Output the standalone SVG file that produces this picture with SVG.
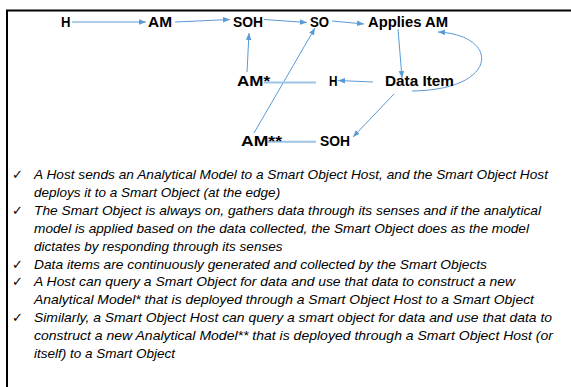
<svg xmlns="http://www.w3.org/2000/svg" width="571" height="387" viewBox="0 0 571 387">
<defs>
<style>
.lbl{font-family:"Liberation Sans",Arial,sans-serif;font-weight:bold;font-size:14.5px;fill:#000}
.txt{font-family:"Liberation Sans",Arial,sans-serif;font-style:italic;font-size:13.5px;fill:#000}
.chk{font-family:"DejaVu Sans",sans-serif;font-size:13px;fill:#000}
.c{fill:none;stroke:#5B9BD5;stroke-width:1}
.t{fill:none;stroke:#9DC3E6;stroke-width:2}
</style>
<marker id="ah" markerUnits="userSpaceOnUse" markerWidth="8" markerHeight="6" refX="7" refY="3" orient="auto">
<path d="M0,0.2 L7,3 L0,5.8 z" fill="#5B9BD5"/>
</marker>
</defs>
<rect x="7" y="10.5" width="600" height="400" fill="#fff" stroke="#000" stroke-width="2"/>
<g id="connectors">
<path class="c" d="M72,22 L146,22" marker-end="url(#ah)"/>
<path class="c" d="M175,22 L230,19.5" marker-end="url(#ah)"/>
<path class="c" d="M264,19.5 L307,22.5" marker-end="url(#ah)"/>
<path class="c" d="M332,21 L364,24" marker-end="url(#ah)"/>
<path class="c" d="M398,29 L402,78" marker-end="url(#ah)"/>
<path class="c" d="M412,91 C500,90 500,35 438,32" marker-end="url(#ah)"/>
<path class="c" d="M373,82 L338,80.5" marker-end="url(#ah)"/>
<path class="c" d="M247,72 L249,33" marker-end="url(#ah)"/>
<path class="c" d="M254,133 L315,28" marker-end="url(#ah)"/>
<path class="c" d="M394,94 L353,137" marker-end="url(#ah)"/>
<path class="t" d="M264,82.5 L316,82.5"/>
<path class="t" d="M267,141.7 L316,141.7"/>
</g>
<g id="n-h"><text class="lbl" x="61" y="26.5" textLength="9.5" lengthAdjust="spacingAndGlyphs">H</text></g>
<g id="n-am"><text class="lbl" x="148" y="26.5" textLength="24" lengthAdjust="spacingAndGlyphs">AM</text></g>
<g id="n-soh"><text class="lbl" x="233" y="26.5" textLength="30" lengthAdjust="spacingAndGlyphs">SOH</text></g>
<g id="n-so"><text class="lbl" x="310" y="26.5" textLength="19" lengthAdjust="spacingAndGlyphs">SO</text></g>
<g id="n-applies"><text class="lbl" x="368" y="26.5" textLength="80" lengthAdjust="spacingAndGlyphs">Applies AM</text></g>
<g id="n-amstar"><text class="lbl" x="237" y="86" textLength="33" lengthAdjust="spacingAndGlyphs">AM*</text></g>
<g id="n-h2"><text class="lbl" x="329" y="86" textLength="8.5" lengthAdjust="spacingAndGlyphs">H</text></g>
<g id="n-data"><text class="lbl" x="385" y="86" textLength="69" lengthAdjust="spacingAndGlyphs">Data Item</text></g>
<g id="n-am2star"><text class="lbl" x="241" y="146" textLength="41" lengthAdjust="spacingAndGlyphs">AM**</text></g>
<g id="n-soh2"><text class="lbl" x="320" y="146" textLength="30" lengthAdjust="spacingAndGlyphs">SOH</text></g>
<g id="notes">
<text class="chk" x="12" y="179">✓</text>
<text class="chk" x="12" y="215">✓</text>
<text class="chk" x="12" y="269">✓</text>
<text class="chk" x="12" y="286">✓</text>
<text class="chk" x="12" y="322">✓</text>
<text class="txt" x="34" y="179" textLength="514" lengthAdjust="spacingAndGlyphs">A Host sends an Analytical Model to a Smart Object Host, and the Smart Object Host</text>
<text class="txt" x="34" y="197">deploys it to a Smart Object (at the edge)</text>
<text class="txt" x="34" y="215" textLength="507" lengthAdjust="spacingAndGlyphs">The Smart Object is always on, gathers data through its senses and if the analytical</text>
<text class="txt" x="34" y="233" textLength="495" lengthAdjust="spacingAndGlyphs">model is applied based on the data collected, the Smart Object does as the model</text>
<text class="txt" x="34" y="251">dictates by responding through its senses</text>
<text class="txt" x="34" y="269" textLength="453" lengthAdjust="spacingAndGlyphs">Data items are continuously generated and collected by the Smart Objects</text>
<text class="txt" x="34" y="286" textLength="481" lengthAdjust="spacingAndGlyphs">A Host can query a Smart Object for data and use that data to construct a new</text>
<text class="txt" x="34" y="304" textLength="500" lengthAdjust="spacingAndGlyphs">Analytical Model* that is deployed through a Smart Object Host to a Smart Object</text>
<text class="txt" x="34" y="322" textLength="518" lengthAdjust="spacingAndGlyphs">Similarly, a Smart Object Host can query a smart object for data and use that data to</text>
<text class="txt" x="34" y="340" textLength="519" lengthAdjust="spacingAndGlyphs">construct a new Analytical Model** that is deployed through a Smart Object Host (or</text>
<text class="txt" x="34" y="358">itself) to a Smart Object</text>
</g>
</svg>
